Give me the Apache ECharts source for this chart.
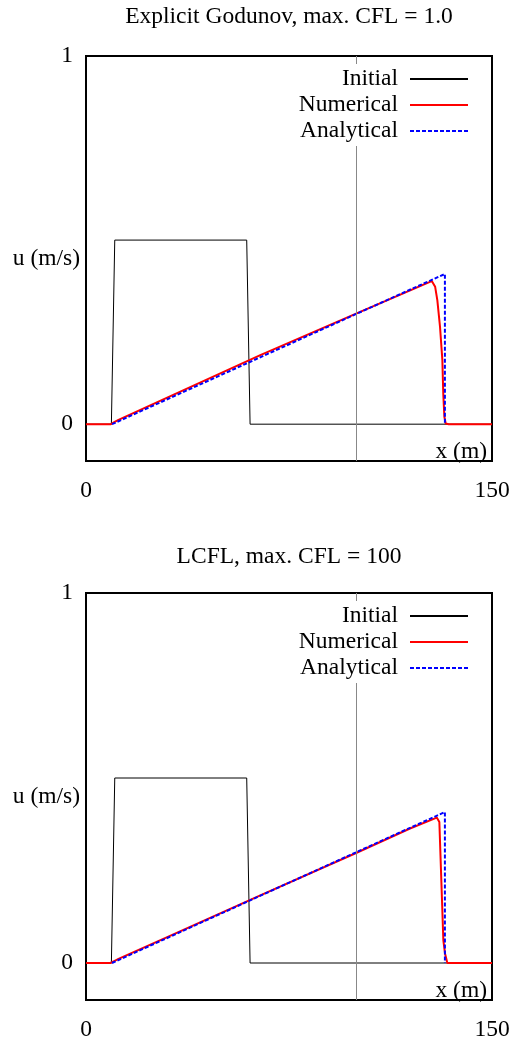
<!DOCTYPE html>
<html>
<head>
<meta charset="utf-8">
<script src="https://cdn.jsdelivr.net/npm/echarts@6/dist/echarts.min.js"></script>
<style>
	html, body { margin: 0; padding: 0; background: #fff; }
	#main { width: 515px; height: 1041px; }
</style>
</head>
<body>
<div id="main"></div>
<script>
// 数据 (从图上读出来的)
var titles = ['Explicit Godunov, max. CFL = 1.0', 'LCFL, max. CFL = 100'];
var seriesNames = ['Initial', 'Numerical', 'Analytical'];
var xTicks = [0, 150];
var yTicks = [0, 1];
var xMark = 100;

// 初始方波
var xInit = [0, 9.375, 10.625, 59.375, 60.625, 150];
var uInit = [0, 0, 0.5, 0.5, 0, 0];

// 解析解
var xExact = [9.6, 132.6, 132.6];
var uExact = [0, 0.408, 0];

// 数值解 - Godunov
var xGod = [0, 9.2, 10.6, 12, 30, 64.4, 100, 120, 126, 127.75, 129.0, 129.8, 130.8, 131.66, 132.0, 132.4, 132.9, 134, 150];
var uGod = [0, 0, 0.006, 0.0115, 0.072, 0.1875, 0.301, 0.364, 0.383, 0.3886, 0.373, 0.337, 0.264, 0.174, 0.083, 0.02, 0.002, 0, 0];

// 数值解 - LCFL
var xLcfl = [0, 9.0, 10.6, 12, 30, 64.4, 100, 119.7, 129.6, 130.55, 132.03, 132.66, 133.5, 150];
var uLcfl = [0, 0, 0.006, 0.011, 0.070, 0.183, 0.298, 0.3635, 0.393, 0.381, 0.061, 0.025, 0, 0];

function pairs(xs, ys) {
	var out = [];
	for (var i = 0; i < xs.length; i++) {
		out.push([xs[i], ys[i]]);
	}
	return out;
}

var font = 'Liberation Serif';
var fs = 23.5;
var numerical = [pairs(xGod, uGod), pairs(xLcfl, uLcfl)];
var grids = [{ top: 56, height: 405, titleTop: 5 }, { top: 593, height: 407, titleTop: 545 }];

var chart = echarts.init(document.getElementById('main'));

var opt = {
	backgroundColor: '#fff',
	animation: false,
	textStyle: { fontFamily: font, color: '#000' },
	title: [],
	legend: [],
	grid: [],
	xAxis: [],
	yAxis: [],
	series: []
};

for (var k = 0; k < 2; k++) {
	opt.title.push({
		text: titles[k],
		left: 289,
		textAlign: 'center',
		top: grids[k].titleTop,
		padding: 0,
		textStyle: { fontFamily: font, fontSize: fs, fontWeight: 'normal', color: '#000' }
	});
	opt.grid.push({
		left: 86,
		right: 23,
		top: grids[k].top,
		height: grids[k].height,
		outerBoundsMode: 'none',
		containLabel: false,
		show: true,
		borderColor: '#000',
		borderWidth: 2,
		backgroundColor: 'transparent'
	});
	// 图例背景盖住 x=100 的竖线
	opt.legend.push({
		data: seriesNames,
		orient: 'vertical',
		align: 'right',
		right: 41,
		top: grids[k].top + 8,
		z: 20,
		padding: [3, 5, 3, 5],
		itemGap: 2,
		itemWidth: 58,
		itemHeight: 14,
		backgroundColor: '#fff',
		selectedMode: false,
		itemStyle: { opacity: 0 },
		textStyle: { fontFamily: font, fontSize: fs, color: '#000', padding: [0, 7, 0, 0] }
	});
	opt.xAxis.push({
		type: 'value',
		gridIndex: k,
		min: 0,
		max: 150,
		interval: 150,
		name: 'x (m)',
		nameLocation: 'end',
		nameGap: -5,
		nameMoveOverlap: false,
		nameTextStyle: {
			fontFamily: font, fontSize: fs, color: '#000',
			align: 'right', verticalAlign: 'bottom', lineHeight: 18
		},
		axisLine: { show: false, onZero: false },
		axisTick: { show: false },
		splitLine: { show: false },
		axisLabel: {
			customValues: xTicks,
			margin: 18,
			fontFamily: font, fontSize: fs, color: '#000'
		}
	});
	opt.yAxis.push({
		type: 'value',
		gridIndex: k,
		min: -0.1,
		max: 1,
		interval: 0.1,
		name: 'u (m/s)',
		nameLocation: 'middle',
		nameRotate: 0,
		nameGap: 6,
		nameMoveOverlap: false,
		nameTextStyle: {
			fontFamily: font, fontSize: fs, color: '#000',
			align: 'right', verticalAlign: 'middle', padding: [8, 0, 0, 0]
		},
		axisLine: { show: false, onZero: false },
		axisTick: { show: false },
		splitLine: { show: false },
		axisLabel: {
			customValues: yTicks,
			margin: 13,
			fontFamily: font, fontSize: fs, color: '#000'
		}
	});
	opt.series.push({
		name: 'Initial',
		type: 'line',
		xAxisIndex: k,
		yAxisIndex: k,
		data: pairs(xInit, uInit),
		symbol: 'none',
		color: '#000',
		lineStyle: { color: '#000', width: 1 },
		markLine: {
			silent: true,
			symbol: 'none',
			label: { show: false },
			lineStyle: { color: '#888', width: 1, type: 'solid' },
			data: [{ xAxis: xMark }]
		}
	}, {
		name: 'Numerical',
		type: 'line',
		xAxisIndex: k,
		yAxisIndex: k,
		data: numerical[k],
		symbol: 'none',
		color: '#ff0000',
		lineStyle: { color: '#ff0000', width: 2 }
	}, {
		name: 'Analytical',
		type: 'line',
		xAxisIndex: k,
		yAxisIndex: k,
		data: pairs(xExact, uExact),
		symbol: 'none',
		color: '#0000ff',
		lineStyle: { color: '#0000ff', width: 2, type: [4, 2] }
	});
}

chart.setOption(opt);
</script>
</body>
</html>
